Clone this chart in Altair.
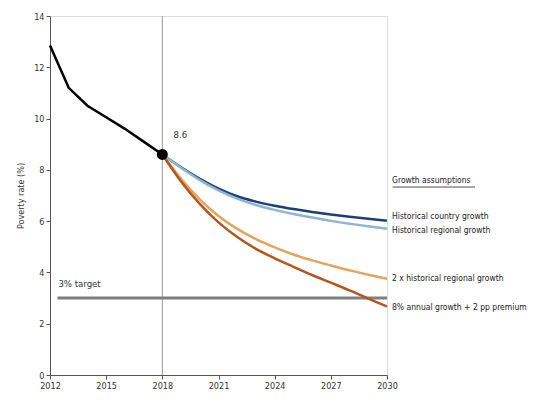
import altair as alt
import pandas as pd

FONT = "DejaVu Sans Condensed, Liberation Sans Narrow, sans-serif"

hist_years = [2012, 2013, 2014, 2015, 2016, 2017, 2018]
hist_values = [12.85, 11.2, 10.5, 10.05, 9.6, 9.1, 8.6]

proj_years = [2018, 2019, 2020, 2021, 2022, 2023, 2024, 2025, 2026, 2027, 2028, 2029, 2030]
country_growth = [8.6, 8.1, 7.65, 7.27, 6.97, 6.76, 6.6, 6.47, 6.36, 6.26, 6.17, 6.09, 6.02]
regional_growth = [8.6, 8.08, 7.6, 7.2, 6.88, 6.63, 6.44, 6.28, 6.14, 6.01, 5.9, 5.8, 5.7]
double_regional = [8.6, 7.65, 6.85, 6.2, 5.7, 5.3, 4.98, 4.7, 4.47, 4.27, 4.08, 3.91, 3.75]
eight_pct = [8.6, 7.55, 6.67, 5.95, 5.38, 4.92, 4.55, 4.22, 3.9, 3.6, 3.3, 2.98, 2.67]

series_names = [
    "Historical country growth",
    "Historical regional growth",
    "2 x historical regional growth",
    "8% annual growth + 2 pp premium",
]
series_values = [country_growth, regional_growth, double_regional, eight_pct]
series_colors = ["#1d3f78", "#8db6cc", "#e6a35c", "#b4561e"]
label_y = [6.2, 5.65, 3.8, 2.65]

target_value = 3
target_years = [2012.4, 2030]
point_year = 2018
point_value = 8.6

x_ticks = [2012, 2015, 2018, 2021, 2024, 2027, 2030]
y_ticks = [0, 2, 4, 6, 8, 10, 12, 14]

hist_df = pd.DataFrame({"year": hist_years, "value": hist_values})
rows = []
for name, vals in zip(series_names, series_values):
    for y, v in zip(proj_years, vals):
        rows.append({"year": y, "value": v, "series": name})
proj_df = pd.DataFrame(rows)

xs = alt.Scale(domain=[2012, 2030], nice=False)
ys = alt.Scale(domain=[0, 14], nice=False)

axis_common = dict(
    grid=False, domainColor="#555555", tickColor="#555555", labelColor="#333333",
    labelFont=FONT, labelFontSize=9, titleFont=FONT, tickSize=4, labelFlush=False,
)

base_x = alt.X("year:Q", scale=xs, axis=alt.Axis(values=x_ticks, format="d", title=None, **axis_common))
base_y = alt.Y("value:Q", scale=ys, axis=alt.Axis(values=y_ticks, title="Poverty rate (%)",
                                                  titleFontSize=9, titleFontWeight="normal",
                                                  titleColor="#333333", titlePadding=8, **axis_common))

vline = alt.Chart(pd.DataFrame({"year": [point_year]})).mark_rule(color="#999999", strokeWidth=1).encode(
    x=alt.X("year:Q", scale=xs), y=alt.datum(0, scale=ys), y2=alt.datum(14)
)

target = alt.Chart(pd.DataFrame({"year": target_years, "value": [target_value] * 2})).mark_line(
    color="#7f7f7f", strokeWidth=3
).encode(x=base_x, y=base_y)

target_label = alt.Chart(pd.DataFrame({"year": [2012.45], "value": [3.55], "t": ["3% target"]})).mark_text(
    align="left", baseline="middle", font=FONT, fontSize=9.5, color="#333333"
).encode(x=alt.X("year:Q", scale=xs), y=alt.Y("value:Q", scale=ys), text="t:N")

proj = alt.Chart(proj_df).mark_line(strokeWidth=2.5, interpolate="monotone").encode(
    x=base_x, y=base_y,
    color=alt.Color("series:N", scale=alt.Scale(domain=series_names, range=series_colors), legend=None),
    order=alt.Order("series:N"),
)

hist = alt.Chart(hist_df).mark_line(color="black", strokeWidth=2.5).encode(
    x=base_x, y=base_y
)

pt = alt.Chart(pd.DataFrame({"year": [point_year], "value": [point_value]})).mark_point(
    filled=True, color="black", size=120, opacity=1
).encode(x=alt.X("year:Q", scale=xs), y=alt.Y("value:Q", scale=ys))

pt_label = alt.Chart(pd.DataFrame({"year": [2018.6], "value": [9.35], "t": ["8.6"]})).mark_text(
    align="left", baseline="middle", font=FONT, fontSize=9.5, color="#333333"
).encode(x=alt.X("year:Q", scale=xs), y=alt.Y("value:Q", scale=ys), text="t:N")

lab_df = pd.DataFrame({"year": [2030] * 4, "value": label_y, "t": series_names})
labels = alt.Chart(lab_df).mark_text(
    align="left", baseline="middle", dx=5, font=FONT, fontSize=8.5, color="#222222"
).encode(x=alt.X("year:Q", scale=xs), y=alt.Y("value:Q", scale=ys), text="t:N")

head = alt.Chart(pd.DataFrame({"year": [2030], "value": [7.6], "t": ["Growth assumptions"]})).mark_text(
    align="left", baseline="middle", dx=5, font=FONT, fontSize=8.5, color="#222222"
).encode(x=alt.X("year:Q", scale=xs), y=alt.Y("value:Q", scale=ys), text="t:N")

underline = alt.Chart(pd.DataFrame({"year": [2030.3], "year2": [2034.7], "value": [7.33]})).mark_rule(
    color="#222222", strokeWidth=0.8
).encode(x=alt.X("year:Q", scale=xs), x2="year2:Q", y=alt.Y("value:Q", scale=ys))

chart = alt.layer(vline, target, target_label, proj, hist, pt, pt_label, labels, head, underline).properties(
    width=337, height=359,
    autosize=alt.AutoSizeParams(type="none"),
    padding={"left": 42, "top": 8, "right": 141, "bottom": 17},
).configure_view(stroke=None).configure(background="white")

chart.save("out.html", embed_options={"renderer": "svg", "actions": False})
